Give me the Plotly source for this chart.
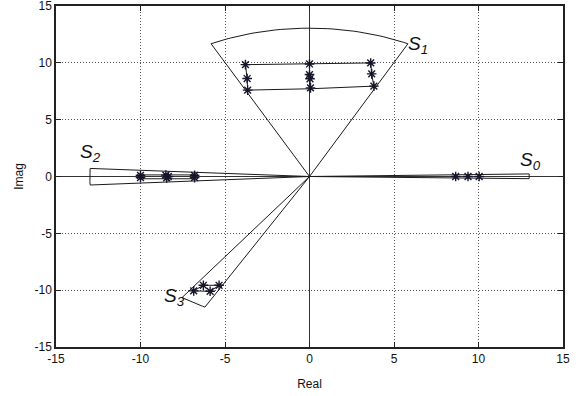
import numpy as np
import plotly.graph_objects as go

# Sector regions (angles in degrees, radius)
sector_names = ["S0", "S1", "S2", "S3"]
sector_theta_min = [-1.0, 63.5, 176.7, 234.7]
sector_theta_max = [1.0, 116.5, 183.3, 241.7]
sector_radius = [13.0, 13.05, 13.0, 13.05]

# Label positions
label_text = ["<i>S</i><sub><i>0</i></sub>", "<i>S</i><sub><i>1</i></sub>",
              "<i>S</i><sub><i>2</i></sub>", "<i>S</i><sub><i>3</i></sub>"]
label_x = [13.1, 6.4, -12.95, -8.0]
label_y = [1.4, 11.6, 2.1, -10.6]

# Poles (real, imag)
s0_re = [8.65, 9.38, 10.04]
s0_im = [0.0, 0.0, 0.0]
s1_re = [-3.79, -3.69, -3.66, 0.0, 0.0, 0.03, 0.06, 3.62, 3.68, 3.81]
s1_im = [9.84, 8.62, 7.60, 9.90, 8.97, 8.60, 7.80, 9.99, 9.03, 7.95]
s2_re = [-10.0, -10.0, -8.5, -8.35, -8.45, -6.8, -6.8]
s2_im = [0.10, -0.10, 0.12, 0.0, -0.12, 0.10, -0.10]
s3_re = [-6.85, -6.28, -5.88, -5.35]
s3_im = [-10.06, -9.57, -10.10, -9.57]

# Pole envelope polygons
p1_re = [-3.79, 0.0, 3.62, 3.68, 3.81, 0.06, -3.66, -3.69, -3.79]
p1_im = [9.84, 9.95, 9.99, 9.03, 7.95, 7.72, 7.60, 8.62, 9.84]
p2_re = [-10.0, -6.8, -6.8, -10.0, -10.0]
p2_im = [0.14, 0.14, -0.20, -0.20, 0.14]
p3_re = [-6.85, -6.28, -5.35, -5.88, -6.85]
p3_im = [-10.06, -9.57, -9.57, -10.10, -10.06]

ticks = [-15, -10, -5, 0, 5, 10, 15]

fig = go.Figure()

line_col = "#1a1a1a"
for tmin, tmax, r in zip(sector_theta_min, sector_theta_max, sector_radius):
    th = np.radians(np.linspace(tmin, tmax, 40))
    xs = np.concatenate([[0.0], r * np.cos(th), [0.0]])
    ys = np.concatenate([[0.0], r * np.sin(th), [0.0]])
    fig.add_trace(go.Scatter(x=xs, y=ys, mode="lines",
                             line=dict(color=line_col, width=1),
                             hoverinfo="skip", showlegend=False))

for px, py in [(p1_re, p1_im), (p2_re, p2_im), (p3_re, p3_im)]:
    fig.add_trace(go.Scatter(x=px, y=py, mode="lines",
                             line=dict(color=line_col, width=1),
                             hoverinfo="skip", showlegend=False))

all_re = s0_re + s1_re + s2_re + s3_re
all_im = s0_im + s1_im + s2_im + s3_im
fig.add_trace(go.Scatter(x=all_re, y=all_im, mode="markers",
                         marker=dict(symbol="asterisk-open", size=8, color="#15152a",
                                     line=dict(color="#15152a", width=1.4)),
                         showlegend=False))

for t, lx, ly in zip(label_text, label_x, label_y):
    fig.add_annotation(x=lx, y=ly, text=t, showarrow=False,
                       font=dict(family="Liberation Sans, Arial", size=19, color="#111"))

axis_common = dict(
    range=[-15, 15], tickvals=ticks, ticktext=[str(t) for t in ticks],
    showgrid=True, gridcolor="#555", griddash="1px,2px", gridwidth=1,
    zeroline=True, zerolinecolor="#333", zerolinewidth=1,
    showline=True, linecolor="#222", linewidth=1.5, mirror="ticks",
    ticks="inside", ticklen=5, tickcolor="#222",
    tickfont=dict(family="Liberation Sans, Arial", size=12, color="#111"),
    automargin=False, ticklabeloverflow="allow",
)

fig.update_xaxes(**axis_common,
                 title=dict(text="Real", standoff=14,
                            font=dict(family="Liberation Sans, Arial", size=12, color="#111")))
fig.update_yaxes(**axis_common,
                 title=dict(text="Imag", standoff=8,
                            font=dict(family="Liberation Sans, Arial", size=12, color="#111")))

fig.update_layout(width=579, height=396,
                  margin=dict(l=56, r=16, t=6, b=49),
                  plot_bgcolor="white", paper_bgcolor="white",
                  showlegend=False)

fig.write_html("out.html",
               config={"displayModeBar": False},
               post_script="document.body.style.margin='0';")
